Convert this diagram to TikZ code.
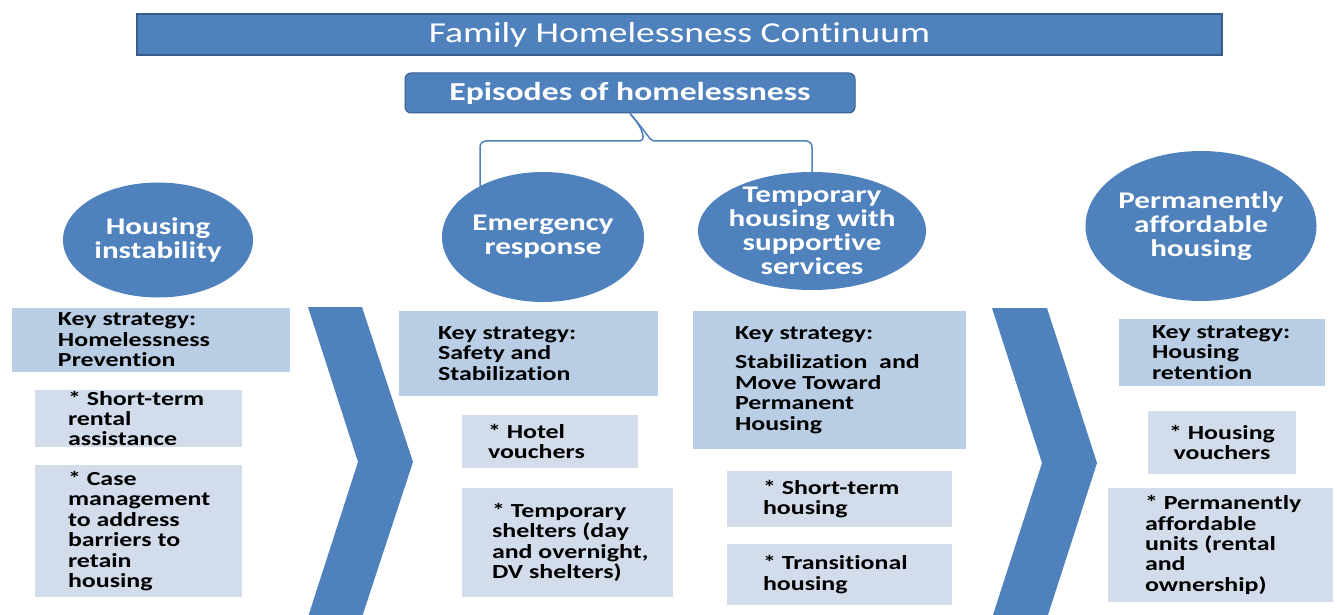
\documentclass[tikz,border=0pt]{standalone}
\usepackage{fontspec}
\setmainfont{Carlito}[FakeStretch=1.3, Ligatures=NoCommon]
\usetikzlibrary{shapes.geometric, positioning}

\definecolor{officeblue}{HTML}{4F81BD}
\definecolor{officeedge}{HTML}{385D8A}
\definecolor{keyfill}{HTML}{B9CDE5}
\definecolor{itemfill}{HTML}{D3DCEA}

\begin{document}
\begin{tikzpicture}[
    x=1bp, y=-1bp,
    banner/.style={rectangle, draw=officeedge, line width=1.5bp, fill=officeblue, text=white, minimum width=1085bp, minimum height=41bp, font=\fontsize{29}{31}\selectfont},
    episode/.style={rectangle, rounded corners=6bp, draw=officeedge, line width=1bp, fill=officeblue, text=white, minimum width=450bp, minimum height=40bp, font=\bfseries\fontsize{26}{28}\selectfont},
    stage/.style={ellipse, fill=officeblue, text=white, align=center, inner sep=-20bp, font=\bfseries\fontsize{24}{24}\selectfont},
    keybox/.style={rectangle, fill=keyfill, inner sep=0pt},
    itembox/.style={rectangle, fill=itemfill, inner sep=0pt},
    boxtext/.style={align=left, inner sep=0pt, font=\bfseries\fontsize{20}{20.5}\selectfont},
    chevron/.style={fill=officeblue},
    bracket/.style={draw=officeblue, line width=1.5bp, rounded corners=6bp}
]
    \useasboundingbox (0,0) rectangle (1337,615);

    \node[banner] (title) at (679.5,34.5) {Family Homelessness Continuum};
    \node[episode] (episodes) at (630,93) {Episodes of homelessness};

    \node[stage, minimum width=190bp, minimum height=115bp] (instability) at (158,240) {Housing\\instability};
    \node[stage, minimum width=202bp, minimum height=130bp] (emergency) at (543,237) {Emergency\\response};
    \node[stage, minimum width=228bp, minimum height=118bp] (temporary) at (812,231) {Temporary\\housing with\\supportive\\services};
    \node[stage, minimum width=231bp, minimum height=150bp] (permanent) at (1201,226) {Permanently\\affordable\\housing};

    \coordinate (lfoot) at (480,186);
    \coordinate (rfoot) at (812,190);
    \draw[bracket] (episodes.south) .. controls (647,133) and (644,141) .. (634,141) -| (lfoot);
    \draw[bracket] (episodes.south) .. controls (647,133) and (650,141) .. (660,141) -| (rfoot);

    \fill[chevron] (308,307) -- (362,307) -- (413,462) -- (362,617) -- (308,617) -- (358,462) -- cycle;
    \fill[chevron] (992,308) -- (1047,308) -- (1097,463) -- (1047,618) -- (992,618) -- (1042,463) -- cycle;

    \node[keybox, minimum width=278bp, minimum height=64bp] (key1) at (151,340) {};
    \node[itembox, minimum width=207bp, minimum height=57bp] (rental) at (138.5,418.5) {};
    \node[itembox, minimum width=207bp, minimum height=132bp] (casemgmt) at (138.5,531) {};
    \node[boxtext, right=46bp of key1.west] (key1txt) {Key strategy:\\Homelessness\\Prevention};
    \node[boxtext, right=33bp of rental.west] (rentaltxt) {* Short-term\\rental\\assistance};
    \node[boxtext, right=33bp of casemgmt.west] (casemgmttxt) {* Case\\management\\to address\\barriers to\\retain\\housing};

    \node[keybox, minimum width=259bp, minimum height=85bp] (key2) at (528.5,353.5) {};
    \node[itembox, minimum width=176bp, minimum height=53bp] (hotel) at (550,441.5) {};
    \node[itembox, minimum width=211bp, minimum height=109bp] (shelters) at (567.5,542.5) {};
    \node[boxtext, right=39bp of key2.west] (key2txt) {Key strategy:\\Safety and\\Stabilization};
    \node[boxtext, right=26bp of hotel.west] (hoteltxt) {* Hotel\\vouchers};
    \node[boxtext, right=30bp of shelters.west] (shelterstxt) {* Temporary\\shelters (day\\and overnight,\\DV shelters)};

    \node[keybox, minimum width=273bp, minimum height=138bp] (key3) at (829.5,380) {};
    \node[itembox, minimum width=225bp, minimum height=56bp] (shortterm) at (839.5,499) {};
    \node[itembox, minimum width=225bp, minimum height=61bp] (transitional) at (839.5,574.5) {};
    \node[boxtext, right=42bp of key3.west] (key3txt) {Key strategy:\\[9bp]Stabilization\ \ and\\Move Toward\\Permanent\\Housing};
    \node[boxtext, right=36bp of shortterm.west] (shorttermtxt) {* Short-term\\housing};
    \node[boxtext, right=36bp of transitional.west] (transitionaltxt) {* Transitional\\housing};

    \node[keybox, minimum width=206bp, minimum height=67bp] (key4) at (1222,352.5) {};
    \node[itembox, minimum width=148bp, minimum height=63bp] (vouchers) at (1222,442.5) {};
    \node[itembox, minimum width=225bp, minimum height=114bp] (units) at (1220.5,545) {};
    \node[boxtext, right=33bp of key4.west] (key4txt) {Key strategy:\\Housing\\retention};
    \node[boxtext, align=center] (voucherstxt) at (vouchers.center) {* Housing\\vouchers};
    \node[boxtext, right=37bp of units.west] (unitstxt) {* Permanently\\affordable\\units (rental\\and\\ownership)};
\end{tikzpicture}
\end{document}
